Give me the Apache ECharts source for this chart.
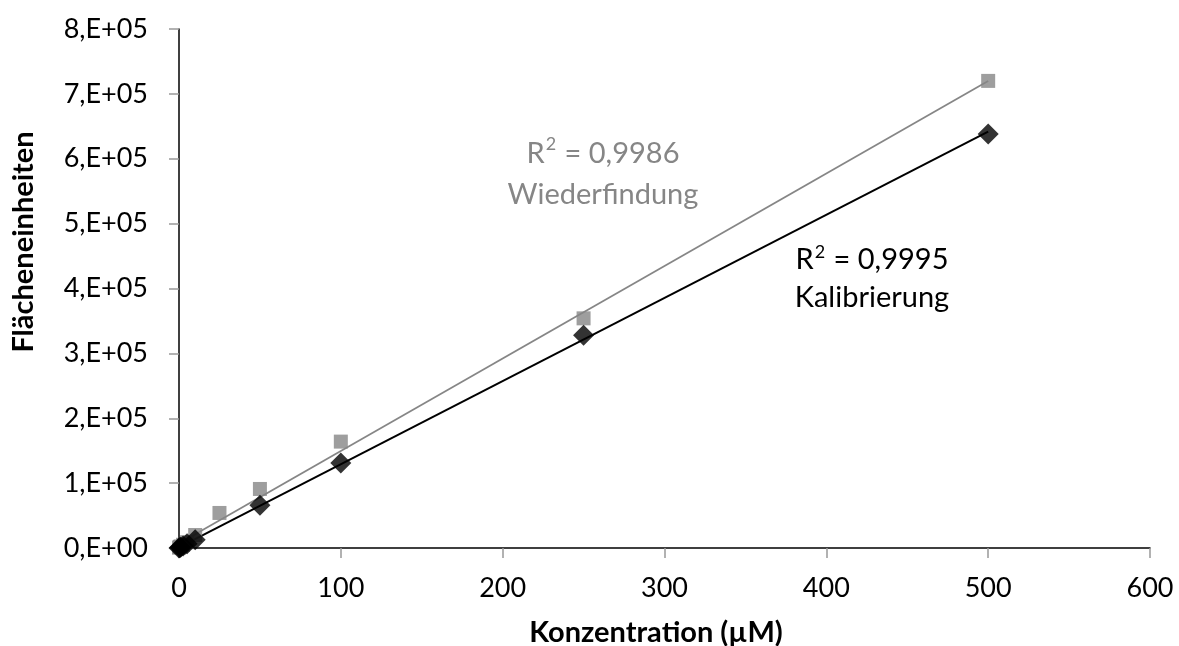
<!DOCTYPE html>
<html>
<head>
<meta charset="utf-8">
<script src="https://cdn.jsdelivr.net/npm/echarts@6/dist/echarts.min.js"></script>
<style>
html,body{margin:0;padding:0;background:#fff;}
#chart{width:1179px;height:646px;}
</style>
</head>
<body>
<div id="chart"></div>
<script>
// Data
var kalibX = [0, 0.5, 1, 2.5, 5, 10, 50, 100, 250, 500];
var kalibY = [0, 600, 1300, 3200, 6400, 12800, 66000, 131000, 328000, 638000];
var wiederX = [0, 0.5, 1, 2.5, 5, 10, 25, 50, 100, 250, 500];
var wiederY = [500, 1500, 2500, 5000, 9000, 20000, 54000, 91000, 164000, 354000, 720000];
var yTickLabels = ['0,E+00','1,E+05','2,E+05','3,E+05','4,E+05','5,E+05','6,E+05','7,E+05','8,E+05'];
var r2Wieder = '0,9986';
var r2Kalib = '0,9995';
var nameWieder = 'Wiederfindung';
var nameKalib = 'Kalibrierung';
var xTitle = 'Konzentration (µM)';
var yTitle = 'Flächeneinheiten';

function pairs(xs, ys){ return xs.map(function(x,i){ return [x, ys[i]]; }); }
function fit(xs, ys){
  var n = xs.length, sx=0, sy=0, sxx=0, sxy=0;
  for (var i=0;i<n;i++){ sx+=xs[i]; sy+=ys[i]; sxx+=xs[i]*xs[i]; sxy+=xs[i]*ys[i]; }
  var m = (n*sxy - sx*sy)/(n*sxx - sx*sx);
  var b = (sy - m*sx)/n;
  var x0 = Math.min.apply(null, xs), x1 = Math.max.apply(null, xs);
  return [[x0, m*x0+b],[x1, m*x1+b]];
}

var FONT = 'Lato, "Open Sans", sans-serif';
var GRAY = '#868686';

function annot(x, y, r2, name, color, lh){
  return {
    type: 'text', x: x, y: y, z: 10,
    style: {
      text: '{a|R}{s|2}{a| = ' + r2 + '}\n{a|' + name + '}',
      align: 'center', verticalAlign: 'top',
      rich: {
        a: {fontFamily: FONT, fontSize: 29, lineHeight: lh, fill: color, color: color},
        s: {fontFamily: FONT, fontSize: 18, lineHeight: 18, verticalAlign: 'top', padding: [2, 1, 0, 1], fill: color, color: color}
      }
    }
  };
}

var chart = echarts.init(document.getElementById('chart'));
chart.setOption({
  animation: false,
  backgroundColor: '#fff',
  grid: {left: 179, right: 29, top: 29, bottom: 98},
  xAxis: {
    type: 'value', min: 0, max: 600, interval: 100,
    axisLine: {show: true, onZero: false, lineStyle: {color: '#000', width: 1.5}},
    axisTick: {show: true, length: 10, inside: false, lineStyle: {color: '#999', width: 1.5}},
    axisLabel: {fontFamily: FONT, fontSize: 27, color: '#000', margin: 27},
    splitLine: {show: false}
  },
  yAxis: {
    type: 'value', min: 0, max: 800000, interval: 100000,
    axisLine: {show: true, lineStyle: {color: '#000', width: 1.5}},
    axisTick: {show: true, length: 10, inside: false, lineStyle: {color: '#999', width: 1.5}},
    axisLabel: {fontFamily: FONT, fontSize: 27, color: '#000', margin: 31,
      formatter: function(v){ return yTickLabels[Math.round(v/100000)]; }},
    splitLine: {show: false}
  },
  series: [
    {type: 'line', data: fit(wiederX, wiederY), symbol: 'none', silent: true,
     lineStyle: {color: GRAY, width: 1.8}, z: 2},
    {type: 'line', data: fit(kalibX, kalibY), symbol: 'none', silent: true,
     lineStyle: {color: '#000', width: 2}, z: 2},
    {type: 'scatter', data: pairs(wiederX, wiederY), symbol: 'rect', symbolSize: 14,
     itemStyle: {color: GRAY}, z: 3},
    {type: 'scatter', data: pairs(kalibX, kalibY), symbol: 'diamond', symbolSize: [21, 21],
     itemStyle: {color: '#000'}, z: 4}
  ],
  graphic: [
    annot(603, 133, r2Wieder, nameWieder, GRAY, 41),
    annot(872, 241, r2Kalib, nameKalib, '#000', 38),
    {type: 'text', x: 656, y: 633, z: 10,
     style: {text: xTitle, font: 'bold 29px ' + FONT, fill: '#000', align: 'center', verticalAlign: 'middle'}},
    {type: 'text', x: 24, y: 242, rotation: Math.PI / 2, z: 10,
     style: {text: yTitle, font: 'bold 29px ' + FONT, fill: '#000', align: 'center', verticalAlign: 'middle'}}
  ]
});
</script>
</body>
</html>
